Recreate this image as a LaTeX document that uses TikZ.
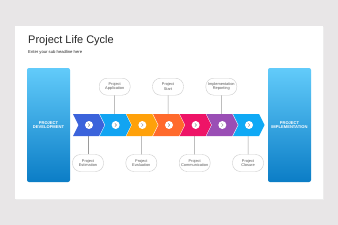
\documentclass[tikz,border=0pt]{standalone}
\usepackage{fontspec}
\setmainfont{Liberation Sans}
\definecolor{canvas}{HTML}{E8E6E7}
\definecolor{ink}{HTML}{262626}
\definecolor{stepA}{HTML}{3B63DB}
\definecolor{stepB}{HTML}{12A4F2}
\definecolor{stepC}{HTML}{FFA10A}
\definecolor{stepD}{HTML}{FF6A2C}
\definecolor{stepE}{HTML}{EE1467}
\definecolor{stepF}{HTML}{9A4EB5}
\definecolor{stepG}{HTML}{0FA9F5}
\definecolor{skytop}{HTML}{62CBFA}
\definecolor{skybot}{HTML}{0B7DC6}
\definecolor{rim}{HTML}{CDCDCD}
\definecolor{wire}{HTML}{9A9A9A}

\begin{document}
\begin{tikzpicture}[
  x=1pt,y=-1pt,
  pill/.style={draw=rim,line width=.4pt,fill=white,rounded corners=8pt,minimum width=31pt,minimum height=17pt,inner sep=0pt,align=center,font=\fontsize{3.9}{4.3}\selectfont,text=black!65},
  phase/.style={rounded corners=2pt,top color=skytop,bottom color=skybot,minimum width=43pt,minimum height=114pt,inner sep=0pt,align=center,text=white,font=\bfseries\fontsize{4.1}{4.8}\selectfont},
  dot/.style={circle,fill=white,minimum size=8pt,inner sep=0pt},
  link/.style={draw=wire,line width=.5pt},
  caret/.style={draw=black!45,line width=.45pt}
]
\useasboundingbox (0,0) rectangle (338,225);
\fill[canvas] (0,0) rectangle (338,225);
\fill[black!7] (15.5,26.8) rectangle (323.6,199.8);
\fill[white] (15,26) rectangle (323,199);

\node[anchor=base west,inner sep=0pt,text=ink,font=\fontsize{11}{13}\selectfont] (title) at (28,43.7) {Project Life Cycle};
\node[anchor=base west,inner sep=0pt,text=ink,font=\fontsize{4.2}{5}\selectfont] (sub) at (28,53) {Enter your sub headline here};

\node[phase] (develop) at (48.5,125) {PROJECT\\DEVELOPMENT};
\node[phase] (implement) at (289.5,125) {PROJECT\\IMPLEMENTATION};

% anchor points on the arrow band
\foreach \i in {1,...,7}
  \coordinate (s\i) at (88+26.67*\i-26.67,125);

% callouts
\node[pill] (p1) at (88,163) {Project\\Estimation};
\node[pill] (p2) at (114.7,86.7) {Project\\Application};
\node[pill] (p3) at (141.3,163) {Project\\Evaluation};
\node[pill] (p4) at (168,86.7) {Project\\Start};
\node[pill] (p5) at (194.7,163) {Project\\Communication};
\node[pill] (p6) at (221.3,86.7) {Implementation\\Reporting};
\node[pill] (p7) at (248,163) {Project\\Closure};
\foreach \i in {1,...,7}
  \draw[link] (p\i) -- (s\i);

% arrow band
\foreach \c [count=\i] in {stepA,stepB,stepC,stepD,stepE,stepF,stepG} {
  \pgfmathsetmacro\xa{73+26.67*(\i-1)}
  \fill[\c] (\xa,114) -- ++(26,0) -- ++(5.5,11) -- ++(-5.5,11) -- ++(-26,0) -- ++(5.5,-11) -- cycle;
  \node[dot] (c\i) at (\xa+16,125) {};
  \draw[caret] (\xa+15.2,123.4) -- (\xa+16.8,125) -- (\xa+15.2,126.6);
}
\end{tikzpicture}
\end{document}
